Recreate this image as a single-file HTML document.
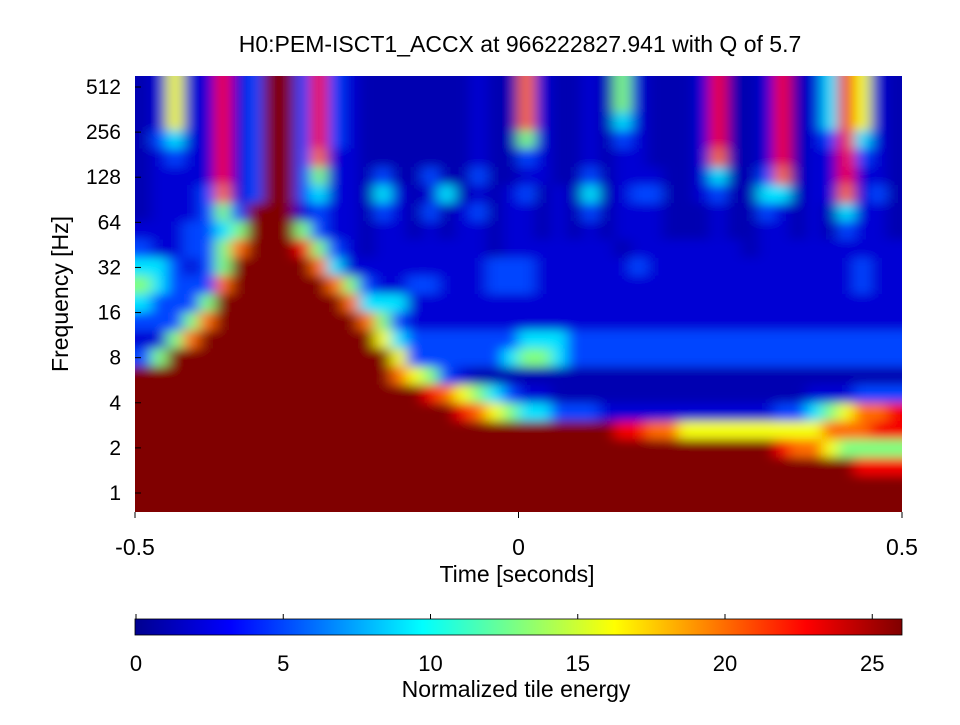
<!DOCTYPE html>
<html><head><meta charset="utf-8"><style>
body{margin:0;background:#fff;}
svg text{font-family:"Liberation Sans",sans-serif;fill:#000;}
</style></head><body>
<svg id="s" width="960" height="720" viewBox="0 0 960 720">
<defs>
<filter id="bl" filterUnits="userSpaceOnUse" x="100" y="40" width="840" height="510"><feGaussianBlur stdDeviation="7 5"/></filter>
<clipPath id="cp"><rect x="135" y="76" width="767" height="436"/></clipPath>
<linearGradient id="jet" x1="0" x2="1" y1="0" y2="0">
<stop offset="0" stop-color="#00008F"/><stop offset="0.125" stop-color="#0000FF"/><stop offset="0.375" stop-color="#00FFFF"/><stop offset="0.625" stop-color="#FFFF00"/><stop offset="0.875" stop-color="#FF0000"/><stop offset="1" stop-color="#800000"/>
</linearGradient>
</defs>
<text x="520" y="52" font-size="23" text-anchor="middle">H0:PEM-ISCT1_ACCX at 966222827.941 with Q of 5.7</text>
<g clip-path="url(#cp)"><rect x="135" y="76" width="767" height="436" fill="#00009a"/><g id="heat" filter="url(#bl)"></g></g>
<g id="axes"></g>
<text x="517" y="582" font-size="23" text-anchor="middle">Time [seconds]</text>
<text transform="translate(68,294) rotate(-90)" font-size="23" text-anchor="middle">Frequency [Hz]</text>
<rect x="135" y="619" width="767" height="16" fill="url(#jet)" stroke="#000" stroke-width="0.8"/>
<g id="cbt"></g>
<text x="516" y="697" font-size="23" text-anchor="middle">Normalized tile energy</text>
</svg>
<script>
const rows = [
"126228239938321111111211721121521112811281248621",
"126228239938321111111211721121521112811281248621",
"126228239938321111111211721121421112811281248621",
"134228239938321111111211521121321112811281238421",
"123228239937221111111211321121221112711281228321",
"122228239935221311311311221131222112411371228221",
"122237239934221421241212312141233112311441227231",
"122235399923221321312312212131222111211321214221",
"222334599953221221212212212121222111211221213221",
"322335799985321222222212222222122222221222222222",
"443235999997422222222233322222232222222222222322",
"543337999999753223322233322222222222222222222322",
"433359999999974442222222222222222222222222222222",
"333579999999997532222222222222222222222222222222",
"225799999999999643333333444333333333333333333333",
"359999999999999963333334554333333333333333333333",
"999999999999999976532111111111111111111111111111",
"999999999999999999876543221111111111111111222333",
"999999999999999999998765443332222222222233456778",
"999999999999999999999999999999887766666666677788",
"999999999999999999999999999999999999999987765555",
"999999999999999999999999999999999999999999999888",
"999999999999999999999999999999999999999999999999",
"999999999999999999999999999999999999999999999999"];
const digitValues = [0, 1, 2, 5, 9, 13, 16, 20, 23, 26];
const vmax = 26;
const xTicks = [-0.5, 0, 0.5];
const xTickLabels = ["-0.5", "0", "0.5"];
const yTicks = [1, 2, 4, 8, 16, 32, 64, 128, 256, 512];
const cbTicks = [0, 5, 10, 15, 20, 25];
const X0=135, X1=902, Y0=76, Y1=512;
const fTop = 512*Math.pow(2,11/45.1), fBot = Math.pow(2,-19/45.1);
function xs(t){return X0+(t+0.5)*(X1-X0);}
function ys(f){return Y0+(Math.log2(fTop)-Math.log2(f))/(Math.log2(fTop)-Math.log2(fBot))*(Y1-Y0);}
function cb(v){return 136+v*29.45;}
function jet(v){
 const t=Math.max(0,Math.min(1,v/vmax));
 const st=[[0,0,0,143],[0.125,0,0,255],[0.375,0,255,255],[0.625,255,255,0],[0.875,255,0,0],[1,128,0,0]];
 for(let i=1;i<st.length;i++){ if(t<=st[i][0]){const a=st[i-1],b=st[i],u=(t-a[0])/(b[0]-a[0]);
  return `rgb(${Math.round(a[1]+u*(b[1]-a[1]))},${Math.round(a[2]+u*(b[2]-a[2]))},${Math.round(a[3]+u*(b[3]-a[3]))})`;}}
 return "rgb(128,0,0)";
}
const NS="http://www.w3.org/2000/svg";
const heat=document.getElementById('heat');
const nr=rows.length, nc=rows[0].length;
const lt=Math.log2(fTop), lb=Math.log2(fBot);
for(let r=0;r<nr;r++){for(let c=0;c<nc;c++){
 const v=digitValues[+rows[r][c]];
 let t0=-0.5+c/nc, t1=-0.5+(c+1)/nc;
 let fa=Math.pow(2,lt-(lt-lb)*r/nr), fb=Math.pow(2,lt-(lt-lb)*(r+1)/nr);
 let x0=xs(t0), x1=xs(t1), y0=ys(fa), y1=ys(fb);
 if(c===0) x0-=20; if(c===nc-1) x1+=20; if(r===0) y0-=20; if(r===nr-1) y1+=20;
 const el=document.createElementNS(NS,'rect');
 el.setAttribute('x',x0);el.setAttribute('y',y0);
 el.setAttribute('width',x1-x0+0.6);el.setAttribute('height',y1-y0+0.6);
 el.setAttribute('fill',jet(v));
 
 
 heat.appendChild(el);
}}
const ax=document.getElementById('axes');
function add(tag,attrs,txt){const e=document.createElementNS(NS,tag);for(const k in attrs)e.setAttribute(k,attrs[k]);if(txt!==undefined)e.textContent=txt;ax.appendChild(e);return e;}
xTicks.forEach((t,i)=>{
 const l=add('line',{x1:xs(t),x2:xs(t),y1:Y1,y2:Y1+6,stroke:'#000'});
 
 
 const tx=add('text',{x:xs(t),y:555,'font-size':23,'text-anchor':'middle'},xTickLabels[i]);
 
 
});
yTicks.forEach(f=>{
 const l=add('line',{x1:X0,x2:X0+6,y1:ys(f),y2:ys(f),stroke:'#000'});
 
 
 const tx=add('text',{x:121,y:ys(f)+7,'font-size':21,'text-anchor':'end'},String(f));
 
 
});
cbTicks.forEach(v=>{
 const l=add('line',{x1:cb(v),x2:cb(v),y1:619,y2:614,stroke:'#000'});
 
 
 const tx=add('text',{x:cb(v),y:671,'font-size':22,'text-anchor':'middle'},String(v));
 
 
});
</script>
</body></html>
